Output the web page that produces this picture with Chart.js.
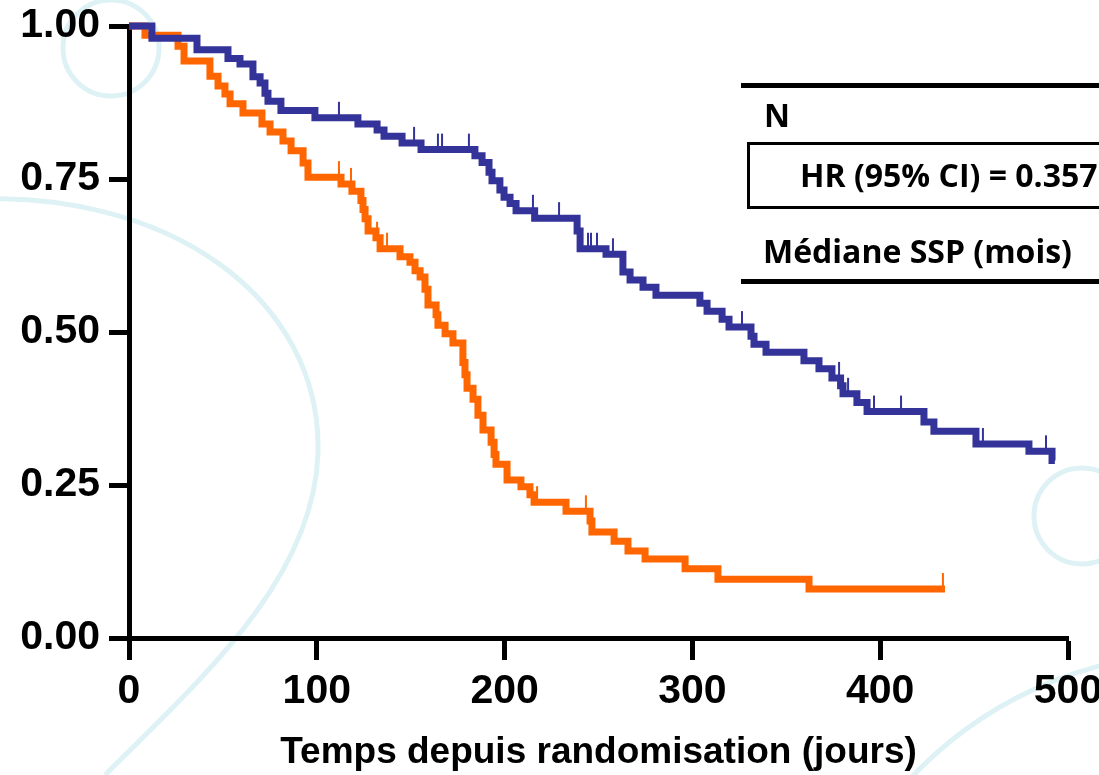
<!DOCTYPE html>
<html>
<head>
<meta charset="utf-8">
<script src="https://cdn.jsdelivr.net/npm/chart.js@4.4.1/dist/chart.umd.min.js"></script>
<style>
  body { margin: 0; background: #fff; }
  #wrap { position: relative; width: 1099px; height: 775px; overflow: hidden; }
  #chart { position: absolute; left: 0; top: 0; }
  .rule { position: absolute; background: #000; }
  .lbl { position: absolute; font-family: 'Open Sans', sans-serif; font-weight: 700; font-size: 32px; line-height: 1; white-space: nowrap; color: #000; }
  #box { position: absolute; left: 747px; top: 142px; width: 420px; height: 61px; border: 3px solid #000; }
</style>
</head>
<body>
<div id="wrap">
  <canvas id="chart" width="1099" height="775"></canvas>
  <div class="rule" style="left:741px;top:83px;width:358px;height:5px"></div>
  <div class="lbl" style="left:764px;top:99px">N</div>
  <div id="box"></div>
  <div class="lbl" style="left:800px;top:159px">HR (95% CI) = 0.357</div>
  <div class="lbl" style="left:763px;top:235px">Médiane SSP (mois)</div>
  <div class="rule" style="left:741px;top:279px;width:358px;height:5px"></div>
</div>
<script>
// axes
const xTicks = [0, 100, 200, 300, 400, 500];
const yTicks = [0, 0.25, 0.5, 0.75, 1];

// blue arm: event times (days) and survival after each event
const blueTimes = [12.2, 36.2, 52.7, 59.1, 66.0, 69.8, 72.4, 74.0, 80.9, 99.0,
  121.9, 132.1, 135.8, 145.4, 155.5, 184.2, 188.0, 191.7, 193.3, 197.5,
  199.7, 202.9, 206.1, 216.0, 238.6, 240.2, 254.0, 263.0, 266.8, 273.7,
  280.6, 304.0, 307.8, 315.8, 319.5, 331.2, 332.8, 339.2, 359.4, 367.4,
  374.3, 378.9, 380.2, 387.6, 393.0, 423.3, 428.6, 451.0, 479.2, 491.5];
const blueSurv = [0.98, 0.961, 0.947, 0.938, 0.917, 0.907, 0.89, 0.877, 0.862, 0.85,
  0.84, 0.83, 0.82, 0.809, 0.798, 0.788, 0.777, 0.761, 0.747, 0.732,
  0.72, 0.71, 0.698, 0.686, 0.665, 0.636, 0.627, 0.598, 0.585, 0.573,
  0.56, 0.547, 0.534, 0.521, 0.508, 0.493, 0.48, 0.467, 0.453, 0.44,
  0.425, 0.412, 0.399, 0.385, 0.37, 0.353, 0.338, 0.317, 0.305, 0.29];
const blueCensor = [111.8, 151.8, 164.5, 166.7, 181.0, 215.1, 229.0, 244.4, 246.0, 249.2,
  257.7, 326.4, 378.1, 382.9, 396.7, 411.1, 454.7, 488.3];
const blueEnd = 493;

// orange arm
const orangeTimes = [8.5, 26.1, 29.3, 43.1, 47.4, 51.1, 53.8, 60.7, 70.8, 75.1,
  82.0, 86.3, 92.7, 95.3, 112.9, 118.7, 123.5, 124.6, 125.7, 127.3,
  131.5, 133.7, 144.3, 149.6, 152.3, 155.0, 157.6, 159.2, 163.5, 164.5,
  168.3, 172.5, 177.8, 178.9, 180.0, 183.2, 185.8, 188.5, 192.8, 194.4,
  195.4, 201.3, 208.7, 213.5, 215.7, 232.7, 245.5, 246.5, 258.3, 265.7,
  274.8, 296.1, 313.6, 362.1];
const orangeSurv = [0.985, 0.967, 0.943, 0.918, 0.902, 0.889, 0.873, 0.858, 0.84, 0.827,
  0.812, 0.796, 0.776, 0.753, 0.742, 0.73, 0.715, 0.70, 0.685, 0.665,
  0.654, 0.636, 0.623, 0.614, 0.60, 0.59, 0.57, 0.544, 0.528, 0.511,
  0.497, 0.482, 0.45, 0.43, 0.408, 0.39, 0.364, 0.34, 0.32, 0.30,
  0.284, 0.258, 0.247, 0.234, 0.222, 0.207, 0.191, 0.173, 0.158, 0.142,
  0.129, 0.113, 0.096, 0.08];
const orangeCensor = [111.8, 118.2, 132.1, 137.4, 217.3, 243.3, 433.4];
const orangeEnd = 434.5;

const BLUE = '#333399';
const ORANGE = '#ff6600';
const FONT = 'Liberation Sans, Arial, sans-serif';

function kmPoints(times, surv, end) {
  const pts = [{ x: 0, y: 1 }];
  times.forEach((t, i) => pts.push({ x: t, y: surv[i] }));
  pts.push({ x: end, y: surv[surv.length - 1] });
  return pts;
}

function survAt(times, surv, t) {
  let s = 1;
  for (let i = 0; i < times.length; i++) {
    if (times[i] <= t) s = surv[i];
  }
  return s;
}

const censorSets = [
  { times: blueTimes, surv: blueSurv, censor: blueCensor, color: BLUE },
  { times: orangeTimes, surv: orangeSurv, censor: orangeCensor, color: ORANGE }
];

// light decorative rings in the background
const backdrop = {
  id: 'backdrop',
  beforeDraw(chart) {
    const ctx = chart.ctx;
    ctx.save();
    ctx.fillStyle = '#fff';
    ctx.fillRect(0, 0, chart.width, chart.height);
    ctx.strokeStyle = '#def2f5';
    ctx.lineWidth = 5;
    ctx.beginPath();
    ctx.arc(111, 48, 48, 0, Math.PI * 2);
    ctx.stroke();
    ctx.beginPath();
    ctx.arc(1082, 516, 48, 0, Math.PI * 2);
    ctx.stroke();
    ctx.beginPath();
    ctx.arc(1200, 1050, 397, 0, Math.PI * 2);
    ctx.stroke();
    ctx.beginPath();
    ctx.moveTo(-40, 200);
    ctx.bezierCurveTo(170, 186, 322, 300, 318, 453);
    ctx.bezierCurveTo(314, 580, 200, 680, 105, 775);
    ctx.stroke();
    ctx.restore();
  }
};

// censor marks: short vertical ticks above the curve
const censorTicks = {
  id: 'censorTicks',
  afterDatasetsDraw(chart) {
    const ctx = chart.ctx;
    const xs = chart.scales.x, ys = chart.scales.y;
    ctx.save();
    ctx.lineWidth = 2;
    censorSets.slice().reverse().forEach(set => {
      ctx.strokeStyle = set.color;
      set.censor.forEach(t => {
        const px = xs.getPixelForValue(t);
        const py = ys.getPixelForValue(survAt(set.times, set.surv, t));
        ctx.beginPath();
        ctx.moveTo(px, py);
        ctx.lineTo(px, py - 16);
        ctx.stroke();
      });
    });
    ctx.restore();
  }
};

new Chart(document.getElementById('chart'), {
  type: 'line',
  data: {
    datasets: [
      {
        data: kmPoints(blueTimes, blueSurv, blueEnd),
        borderColor: BLUE,
        borderWidth: 7,
        stepped: 'before',
        pointRadius: 0,
        fill: false,
        clip: false,
        borderJoinStyle: 'miter'
      },
      {
        data: kmPoints(orangeTimes, orangeSurv, orangeEnd),
        borderColor: ORANGE,
        borderWidth: 7,
        stepped: 'before',
        pointRadius: 0,
        fill: false,
        clip: false,
        borderJoinStyle: 'miter'
      }
    ]
  },
  options: {
    responsive: false,
    animation: false,
    layout: { padding: { top: 26, right: 31, left: 0, bottom: 0 } },
    plugins: { legend: { display: false }, tooltip: { enabled: false } },
    scales: {
      x: {
        type: 'linear',
        min: 0,
        max: 500,
        afterBuildTicks: s => { s.ticks = xTicks.map(v => ({ value: v })); },
        afterFit: s => { s.height = 137; s.paddingLeft = 0; s.paddingRight = 0; },
        border: { color: '#000', width: 5 },
        grid: { drawOnChartArea: false, tickLength: 22, tickWidth: 5, tickColor: '#000' },
        ticks: { color: '#000', padding: 7, font: { family: FONT, size: 41, weight: 'bold' } },
        title: {
          display: true,
          text: 'Temps depuis randomisation (jours)',
          color: '#000',
          padding: { top: 0, bottom: 0 },
          font: { family: FONT, size: 37, weight: 'bold' }
        }
      },
      y: {
        min: 0,
        max: 1,
        afterBuildTicks: s => { s.ticks = yTicks.map(v => ({ value: v })); },
        afterFit: s => { s.width = 129; s.paddingTop = 0; s.paddingBottom = 0; },
        border: { color: '#000', width: 5 },
        grid: { drawOnChartArea: false, tickLength: 20, tickWidth: 5, tickColor: '#000' },
        ticks: {
          color: '#000',
          padding: 9,
          font: { family: FONT, size: 41, weight: 'bold' },
          callback: v => v.toFixed(2)
        }
      }
    }
  },
  plugins: [backdrop, censorTicks]
});
</script>
</body>
</html>
